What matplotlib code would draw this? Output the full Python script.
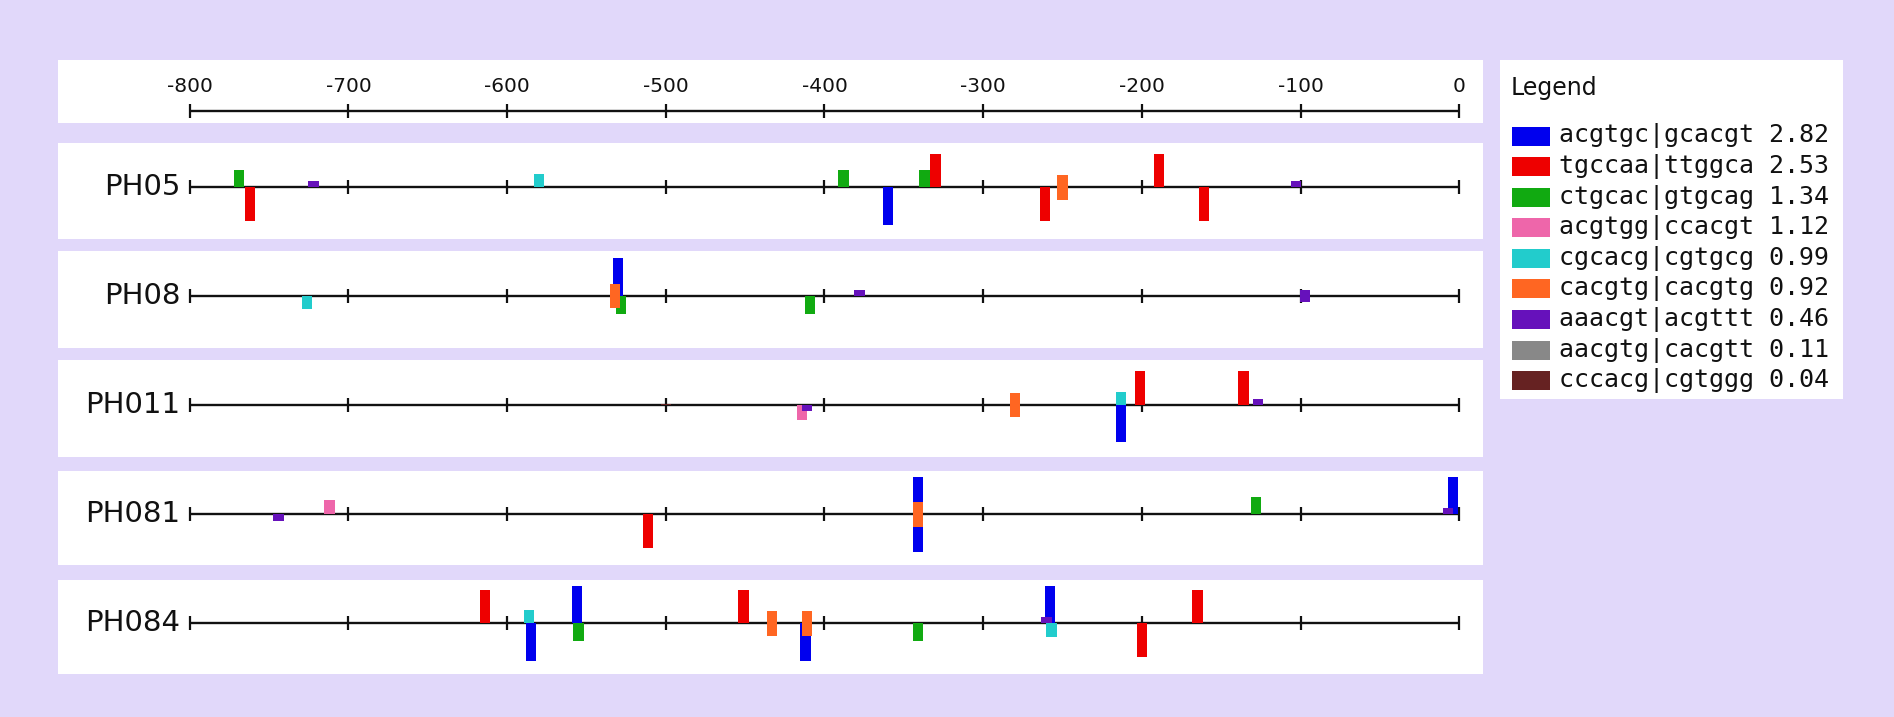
import matplotlib
matplotlib.use("Agg")
import matplotlib.pyplot as plt
from matplotlib.patches import Rectangle

# ---------------- data ----------------
motifs = ["acgtgc|gcacgt", "tgccaa|ttggca", "ctgcac|gtgcag", "acgtgg|ccacgt",
          "cgcacg|cgtgcg", "cacgtg|cacgtg", "aaacgt|acgttt", "aacgtg|cacgtt",
          "cccacg|cgtggg"]
scores = [2.82, 2.53, 1.34, 1.12, 0.99, 0.92, 0.46, 0.11, 0.04]
colors = ["#0000ee", "#ee0000", "#11aa11", "#ee66aa", "#22cccc",
          "#ff6622", "#6611bb", "#888888", "#662222"]

row_names = ["PH05", "PH08", "PH011", "PH081", "PH084"]

# motif index, position, strand (+1 above line, -1 below)
PH05_motif = [2, 1, 6, 8, 4, 2, 0, 2, 1, 1, 5, 5, 1, 1, 6]
PH05_pos = [-769, -762, -722, -601, -580, -388, -360, -337, -330, -261, -250, -250, -189, -161, -103]
PH05_strand = [1, -1, 1, 1, 1, 1, -1, 1, 1, -1, 1, -1, 1, -1, 1]

PH08_motif = [4, 0, 5, 5, 2, 2, 6, 6, 6]
PH08_pos = [-726, -530, -532, -532, -528, -409, -378, -97, -97]
PH08_strand = [-1, 1, 1, -1, -1, -1, 1, 1, -1]

PH011_motif = [8, 3, 6, 5, 5, 4, 0, 1, 1, 6]
PH011_pos = [-500, -414, -411, -280, -280, -213, -213, -201, -136, -127]
PH011_strand = [1, -1, -1, 1, -1, 1, -1, 1, 1, 1]

PH081_motif = [6, 3, 1, 0, 0, 5, 5, 2, 0, 6]
PH081_pos = [-744, -712, -511, -341, -341, -341, -341, -128, -4, -7]
PH081_strand = [-1, 1, -1, 1, -1, 1, -1, 1, 1, 1]

PH084_motif = [1, 4, 0, 0, 2, 1, 5, 5, 5, 5, 0, 8, 2, 0, 4, 6, 1, 1]
PH084_pos = [-614, -586, -585, -556, -555, -451, -433, -433, -411, -411, -412, -409, -341, -258, -257, -260, -200, -165]
PH084_strand = [1, 1, -1, 1, -1, 1, 1, -1, 1, -1, -1, 1, -1, 1, -1, 1, -1, 1]

rows_motif = [PH05_motif, PH08_motif, PH011_motif, PH081_motif, PH084_motif]
rows_pos = [PH05_pos, PH08_pos, PH011_pos, PH081_pos, PH084_pos]
rows_strand = [PH05_strand, PH08_strand, PH011_strand, PH081_strand, PH084_strand]

tick_values = [-800, -700, -600, -500, -400, -300, -200, -100, 0]

# ---------------- layout ----------------
W, H = 1894, 717
BG = "#e1d8fa"
fig = plt.figure(figsize=(W / 100, H / 100), dpi=100, facecolor=BG)


def add_px_axes(x0, y0, x1, y1):
    ax = fig.add_axes([x0 / W, 1 - y1 / H, (x1 - x0) / W, (y1 - y0) / H])
    ax.set_facecolor("white")
    for s in ax.spines.values():
        s.set_visible(False)
    ax.set_xticks([])
    ax.set_yticks([])
    return ax


XL, XR = -883, 15
PANEL_L, PANEL_R = 58, 1483
Y_PX = 13.3           # vertical px per score unit


def draw_axis_line(ax, tick_half):
    ax.plot([tick_values[0], tick_values[-1]], [0, 0], color="#111111", lw=1.7,
            solid_capstyle="butt", zorder=3)
    ax.vlines(tick_values, -tick_half, tick_half, color="#111111", lw=1.6, zorder=3)


# top scale panel
top_h = 123 - 60
ax_top = add_px_axes(PANEL_L, 60, PANEL_R, 123)
line_px_from_top = 111 - 60
ax_top.set_xlim(XL, XR)
ax_top.set_ylim(-(top_h - line_px_from_top), line_px_from_top)
draw_axis_line(ax_top, 7)
for t in tick_values:
    ax_top.text(t, 25, str(t), ha="center", va="center", fontsize=14.5,
                family="DejaVu Sans", color="#111111")

# row panels
row_boxes = [(143, 239), (251, 348), (360, 457), (471, 565), (580, 674)]
for name, (y0, y1), mot, pos, strand in zip(row_names, row_boxes, rows_motif,
                                            rows_pos, rows_strand):
    ax = add_px_axes(PANEL_L, y0, PANEL_R, y1)
    h = y1 - y0
    off = 3.6
    ax.set_xlim(XL, XR)
    ax.set_ylim(-(h / 2 + off) / Y_PX, (h / 2 - off) / Y_PX)
    draw_axis_line(ax, 7 / Y_PX)
    # draw in legend order (strongest first) so weaker motifs sit on top
    order = sorted(range(len(mot)), key=lambda i: mot[i])
    for i in order:
        m = mot[i]
        ax.bar(pos[i], scores[m] * strand[i], width=6.5, bottom=0,
               color=colors[m], linewidth=0, zorder=4)
    ax.text(-806, 0, name, ha="right", va="center", fontsize=21,
            family="DejaVu Sans", color="#111111")

# legend panel
lx0, ly0, lx1, ly1 = 1500, 60, 1843, 399
axl = add_px_axes(lx0, ly0, lx1, ly1)
axl.set_xlim(0, lx1 - lx0)
axl.set_ylim(ly1 - ly0, 0)
axl.text(11, 28, "Legend", ha="left", va="center", fontsize=17,
         family="DejaVu Sans", color="#111111")
for k, (mname, sc, col) in enumerate(zip(motifs, scores, colors)):
    yc = 76 + k * 30.6
    axl.add_patch(Rectangle((12, yc - 9.5), 38, 19, facecolor=col, edgecolor="none"))
    axl.text(59, yc, f"{mname} {sc:.2f}", ha="left", va="center", fontsize=18,
             family="DejaVu Sans Mono", color="#111111")

fig.savefig("out.png", dpi=100, facecolor=BG)
